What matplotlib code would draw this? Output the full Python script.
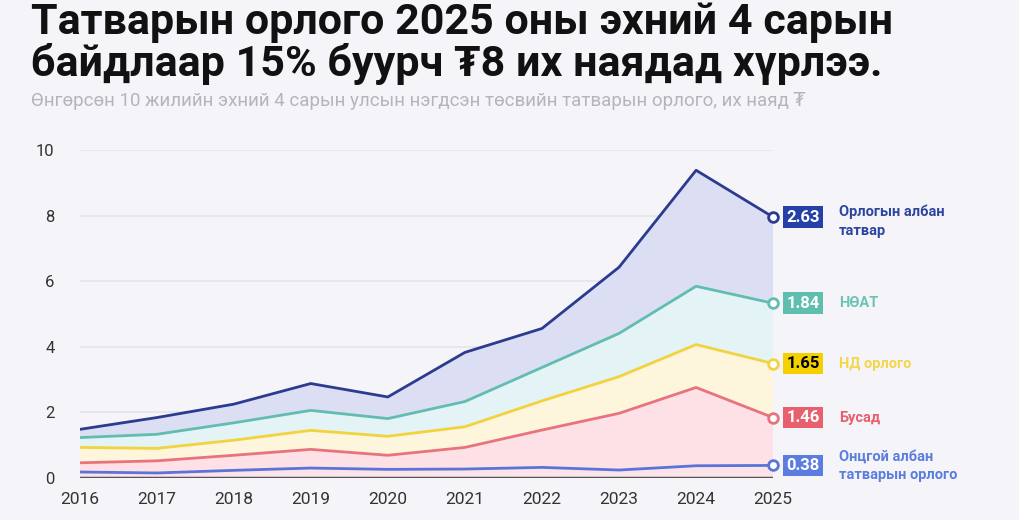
import matplotlib
matplotlib.use("Agg")
import matplotlib.pyplot as plt

plt.rcParams['font.family'] = ['Roboto', 'DejaVu Sans']

years = [2016, 2017, 2018, 2019, 2020, 2021, 2022, 2023, 2024, 2025]

# trillion MNT, first 4 months of each year
excise = [0.18, 0.15, 0.23, 0.30, 0.26, 0.27, 0.32, 0.24, 0.37, 0.38]
other = [0.28, 0.37, 0.46, 0.57, 0.43, 0.66, 1.14, 1.73, 2.39, 1.46]
social = [0.47, 0.38, 0.46, 0.58, 0.58, 0.63, 0.89, 1.12, 1.31, 1.65]
vat = [0.30, 0.43, 0.53, 0.61, 0.54, 0.77, 1.02, 1.32, 1.78, 1.84]
income = [0.25, 0.51, 0.57, 0.82, 0.66, 1.50, 1.19, 2.02, 3.54, 2.63]

series = [excise, other, social, vat, income]
names = ["Онцгой албан\nтатварын орлого", "Бусад", "НД орлого", "НӨАТ", "Орлогын албан\nтатвар"]
line_colors = ["#5b74d8", "#e9737d", "#f2d33f", "#62bdb0", "#2c3b8f"]
fill_colors = ["#fbe3ea", "#fde1e6", "#fdf5dc", "#e3f3f6", "#dcdff4"]
box_colors = ["#5b7de0", "#e8606e", "#f5d000", "#5fbfae", "#2541a8"]
text_colors = ["#5b7de0", "#e8606e", "#f3d64a", "#6cc4b5", "#2d45a0"]

bg = "#f5f5f9"
fig = plt.figure(figsize=(10.2, 5.2), dpi=100, facecolor=bg)
ax = fig.add_axes([0.078, 0.081, 0.68, 0.630], facecolor=bg)

ax.stackplot(years, *series, colors=fill_colors, linewidth=0)

cum = [0.0] * len(years)
for i, s in enumerate(series):
    cum = [c + v for c, v in zip(cum, s)]
    ax.plot(years, cum, color=line_colors[i], lw=2, zorder=3)
    ax.plot(years[-1], cum[-1], 'o', ms=7, mfc="white", mec=line_colors[i], mew=2, zorder=4, clip_on=False)
    y = cum[-1]
    ax.text(2025.17, y, f"{s[-1]:.2f}", color="black" if i == 2 else "white",
            fontsize=12, fontweight="bold", va="center", ha="left",
            bbox=dict(boxstyle="square,pad=0.2", fc=box_colors[i], ec="none"))
    ty = y
    va = "center"
    if i == 4:
        ty = y + 0.38
        va = "top"
    ax.text(2025.85, ty, names[i], color=text_colors[i], fontsize=10.5, fontweight="bold",
            va=va, ha="left", linespacing=1.4)

ax.set_xlim(2016, 2025)
ax.set_ylim(0, 10)
ax.set_yticks([0, 2, 4, 6, 8, 10])
ax.set_xticks(years)
ax.tick_params(length=0, labelsize=12, colors="#333333")
ax.tick_params(axis='y', pad=18)
ax.tick_params(axis='x', labelsize=12.5, pad=10)
ax.grid(axis='y', color="#e4e4ea", lw=1.2)
ax.set_axisbelow(True)
for sp in ax.spines.values():
    sp.set_visible(False)
ax.axhline(0, color="#555555", lw=2.5, zorder=5)

fig.text(0.03, 0.996, "Татварын орлого 2025 оны эхний 4 сарын\nбайдлаар 15% буурч ₮8 их наядад хүрлээ.",
         fontsize=31, fontweight="bold", va="top", ha="left", color="#111111", linespacing=1.0)
fig.text(0.03, 0.805, "Өнгөрсөн 10 жилийн эхний 4 сарын улсын нэгдсэн төсвийн татварын орлого, их наяд ₮",
         fontsize=13.5, color="#b4b4bc", va="center", ha="left")

fig.savefig("out.png", dpi=100, facecolor=bg)
